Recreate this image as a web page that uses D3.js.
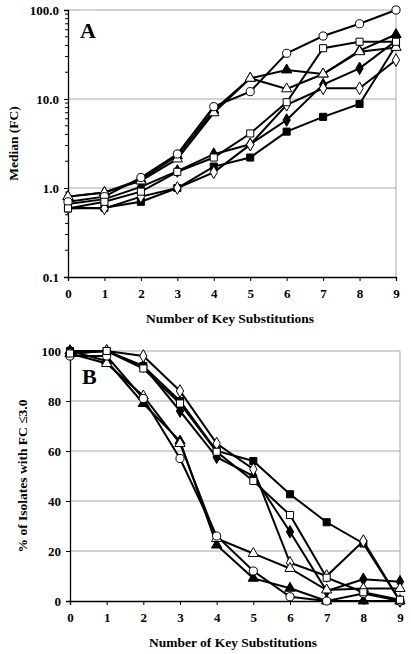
<!DOCTYPE html>
<html><head><meta charset="utf-8">
<script src="https://cdn.jsdelivr.net/npm/d3@7"></script>
<style>body{margin:0;background:#fff}svg{display:block}</style>
</head><body><svg id="c" width="411" height="654"></svg>
<script>
const xs = [0,1,2,3,4,5,6,7,8,9];
const seriesNames = ["filledDiamond","filledTriangle","filledSquare","openDiamond","openTriangle","openCircle","openSquare"];
const markers = {openCircle:["circle",false],openTriangle:["triangle",false],filledTriangle:["triangle",true],openSquare:["square",false],filledDiamond:["diamond",true],openDiamond:["diamond",false],filledSquare:["square",true]};
// Panel A: median fold change
const aOpenCircle    = [0.70,0.80,1.31,2.41,8.2,12.1,32.6,51,70,100];
const aOpenTriangle  = [0.80,0.89,1.20,2.12,7.0,17.1,13.0,19.1,34,38];
const aFilledTriangle= [0.80,0.89,1.25,2.30,7.5,17.1,21.2,19.1,35,53];
const aOpenSquare    = [0.59,0.70,0.91,1.52,2.2,4.1,9.2,37.2,44,44];
const aFilledDiamond = [0.66,0.75,1.03,1.55,2.4,3.1,5.8,14.5,22.1,45];
const aOpenDiamond   = [0.60,0.59,0.80,1.00,1.5,3.07,8.6,13.2,13.2,27.4];
const aFilledSquare  = [0.59,0.60,0.70,1.00,1.74,2.2,4.3,6.3,8.8,40];
// Panel B: % of isolates with FC <= 3.0
const bOpenCircle    = [98,98,81,57,26,12,1.7,0,3,0];
const bOpenTriangle  = [99,95,82,63,25,19,13,4.4,5,5];
const bFilledTriangle= [100,96,79,64,22.4,9.1,5.1,0,0,0];
const bOpenSquare    = [99,100,93,79,59.7,48,34.4,9.3,3.5,0.5];
const bFilledDiamond = [100,100,94,76,57.5,50,27.7,4,8.7,7.7];
const bOpenDiamond   = [99,100,98,84,63,52.7,15.3,10,24,0];
const bFilledSquare  = [100,100,94,80,60,56,42.7,31.5,23,0];
const aTicks = [0.1,1,10,100];
const aTickLabels = ["0.1","1.0","10.0","100.0"];
const bTicks = [0,20,40,60,80,100];
const xTitle = "Number of Key Substitutions";
const aYTitle = "Median (FC)";
const bYTitle = "% of Isolates with FC \u22643.0";

const A = {OpenCircle:aOpenCircle,OpenTriangle:aOpenTriangle,FilledTriangle:aFilledTriangle,OpenSquare:aOpenSquare,FilledDiamond:aFilledDiamond,OpenDiamond:aOpenDiamond,FilledSquare:aFilledSquare};
const B = {OpenCircle:bOpenCircle,OpenTriangle:bOpenTriangle,FilledTriangle:bFilledTriangle,OpenSquare:bOpenSquare,FilledDiamond:bFilledDiamond,OpenDiamond:bOpenDiamond,FilledSquare:bFilledSquare};
const key = n => n[0].toUpperCase()+n.slice(1);
const FONT = "'Liberation Serif','Times New Roman',Times,serif";

const svg = d3.select("#c");
const symType = {circle:d3.symbolCircle,triangle:d3.symbolTriangle,square:d3.symbolSquare,diamond:d3.symbolDiamond};
const symSize = {circle:52,triangle:46,square:50,diamond:46};

function panel(o){
  const g = svg.append("g");
  const x = d3.scaleLinear().domain([0,9]).range([o.x0,o.x1]);
  const y = o.y;
  g.append("g").selectAll("line").data(o.grid).join("line")
    .attr("x1",o.x0).attr("x2",o.x1).attr("y1",d=>y(d)).attr("y2",d=>y(d))
    .attr("stroke","#a8a8a8").attr("stroke-width",1);
  g.append("line").attr("x1",o.x1).attr("x2",o.x1).attr("y1",y.range()[1]).attr("y2",y.range()[0]).attr("stroke","#a8a8a8");
  const ya = d3.axisLeft(y).tickValues(o.ticks).tickFormat((d,i)=>o.labels[i]).tickSize(4).tickPadding(5);
  const yg = g.append("g").attr("transform",`translate(${o.x0},0)`).call(ya);
  if(o.minor){
    yg.selectAll(".minor").data(o.minor).join("line").attr("class","minor")
      .attr("x1",-3).attr("x2",0).attr("y1",d=>y(d)).attr("y2",d=>y(d)).attr("stroke","#000");
  }
  const xa = d3.axisBottom(x).tickValues(xs).tickFormat(d3.format("d")).tickSize(4).tickPadding(8);
  const xg = g.append("g").attr("transform",`translate(0,${y.range()[0]})`).call(xa);
  [yg,xg].forEach(a=>{a.attr("font-family",FONT).attr("font-weight","bold").attr("font-size",13);
    a.select(".domain").attr("stroke","#000").attr("stroke-width",1.3);
    a.selectAll("text").attr("fill","#000");});
  const line = d3.line().x((d,i)=>x(xs[i])).y(d=>y(d));
  seriesNames.forEach(n=>{
    g.append("path").attr("d",line(o.data[key(n)])).attr("fill","none").attr("stroke","#000").attr("stroke-width",2);
  });
  seriesNames.forEach(n=>{
    const [shape,filled] = markers[n];
    g.append("g").selectAll("path").data(o.data[key(n)]).join("path")
      .attr("d",d3.symbol().type(symType[shape]).size(symSize[shape]))
      .attr("transform",(d,i)=>`translate(${x(xs[i])},${y(d)})`)
      .attr("fill",filled?"#000":"#fff").attr("stroke","#000").attr("stroke-width",1);
  });
  const t = (s)=>s.attr("font-family",FONT).attr("font-weight","bold");
  g.append("text").call(t).attr("x",(o.x0+o.x1)/2-2).attr("y",o.xTitleY).attr("text-anchor","middle").attr("font-size",13.5).text(xTitle);
  g.append("text").call(t).attr("transform",`translate(${o.yTitleX},${(y.range()[0]+y.range()[1])/2}) rotate(-90)`).attr("text-anchor","middle").attr("font-size",13.5).text(o.yTitle);
  g.append("text").call(t).attr("x",o.x0+12).attr("y",o.letterY).attr("font-size",22).text(o.letter);
}

const minorA = [];
[0.1,1,10].forEach(b=>{for(let k=2;k<=9;k++) minorA.push(b*k);});
panel({x0:68,x1:396,y:d3.scaleLog().domain([0.1,100]).range([277,10]),grid:[1,10,100],ticks:aTicks,labels:aTickLabels,minor:minorA,data:A,xTitleY:323,yTitleX:18,yTitle:aYTitle,letter:"A",letterY:38});
panel({x0:70,x1:400,y:d3.scaleLinear().domain([0,100]).range([601,351]),grid:[20,40,60,80,100],ticks:bTicks,labels:bTicks.map(String),data:B,xTitleY:647,yTitleX:27,yTitle:bYTitle,letter:"B",letterY:384});
</script></body></html>
